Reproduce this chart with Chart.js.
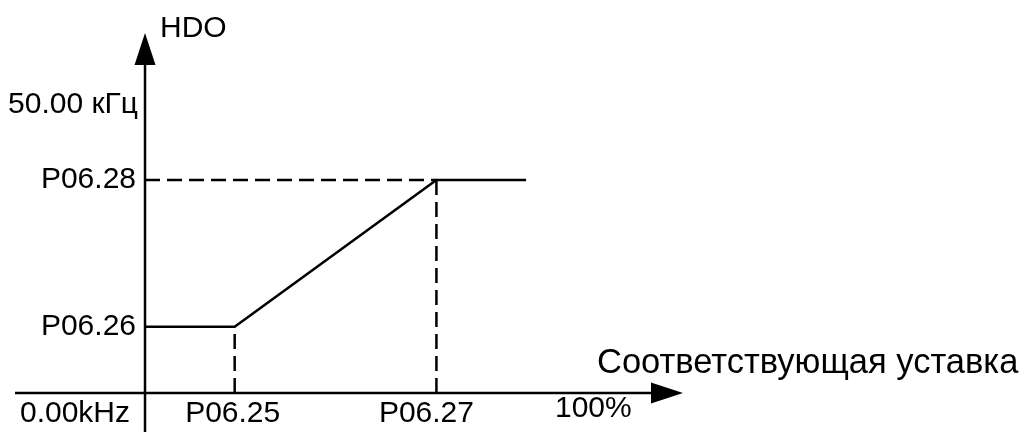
<!DOCTYPE html>
<html>
<head>
<meta charset="utf-8">
<script src="https://cdn.jsdelivr.net/npm/chart.js@4/dist/chart.umd.min.js"></script>
<style>
  html, body { margin: 0; padding: 0; background: #fff; }
  #wrap { width: 1024px; height: 432px; }
</style>
</head>
<body>
<div id="wrap"><canvas id="chart"></canvas></div>
<script>
// characteristic curve (x in % of setting, y in % of 50 kHz)
const curveX = [0, 20, 65, 85];
const curveY = [23, 23, 74, 74];

// breakpoints for the dashed guides
const breakX = [20, 65];
const breakY = [23, 74];

// text labels
const xTickLabels = ["P06.25", "P06.27"];
const yTickLabels = ["P06.26", "P06.28"];
const xMaxLabel = "100%";
const xMaxValue = 100;
const yMaxLabel = "50.00 кГц";
const yMaxValue = 100;
const originLabel = "0.00kHz";
const xTitle = "Соответствующая уставка";
const yTitle = "HDO";

const FONT = "'Liberation Sans', Arial, sans-serif";

const toPts = (xs, ys) => xs.map((x, i) => ({ x: x, y: ys[i] }));

const dashed = {
  borderColor: "#000",
  borderWidth: 2.5,
  borderDash: [15, 7],
  pointRadius: 0,
  fill: false,
};

const datasets = [
  {
    data: toPts(curveX, curveY),
    borderColor: "#000",
    borderWidth: 2.5,
    pointRadius: 0,
    fill: false,
  },
  // horizontal guide to the upper level
  Object.assign({ data: [{ x: 0, y: breakY[1] }, { x: breakX[1], y: breakY[1] }] }, dashed),
  // vertical guides down to the x axis
  Object.assign({ data: [{ x: breakX[0], y: 0 }, { x: breakX[0], y: breakY[0] }] }, dashed),
  Object.assign({ data: [{ x: breakX[1], y: 0 }, { x: breakX[1], y: breakY[1] }] }, dashed),
];

// axes with arrows and all text labels
const axesPlugin = {
  id: "arrowAxes",
  afterDraw(chart) {
    const ctx = chart.ctx;
    const xs = chart.scales.x;
    const ys = chart.scales.y;
    const x0 = xs.getPixelForValue(0);
    const y0 = ys.getPixelForValue(0);
    const xEnd = xs.getPixelForValue(xs.max);
    const yTop = ys.getPixelForValue(ys.max);
    const xStart = xs.getPixelForValue(xs.min);
    const yBottom = ys.getPixelForValue(ys.min);

    ctx.save();
    ctx.strokeStyle = "#000";
    ctx.fillStyle = "#000";
    ctx.lineWidth = 2.5;

    // x axis
    ctx.beginPath();
    ctx.moveTo(xStart, y0);
    ctx.lineTo(xEnd - 30, y0);
    ctx.stroke();
    ctx.beginPath();
    ctx.moveTo(xEnd, y0);
    ctx.lineTo(xEnd - 32, y0 - 10.5);
    ctx.lineTo(xEnd - 32, y0 + 10.5);
    ctx.closePath();
    ctx.fill();

    // y axis
    ctx.beginPath();
    ctx.moveTo(x0, yBottom);
    ctx.lineTo(x0, yTop + 30);
    ctx.stroke();
    ctx.beginPath();
    ctx.moveTo(x0, yTop);
    ctx.lineTo(x0 - 10.5, yTop + 32);
    ctx.lineTo(x0 + 10.5, yTop + 32);
    ctx.closePath();
    ctx.fill();

    ctx.font = "30px " + FONT;
    ctx.textBaseline = "middle";

    // y labels
    ctx.textAlign = "right";
    yTickLabels.forEach((t, i) => ctx.fillText(t, x0 - 9, ys.getPixelForValue(breakY[i])));
    ctx.fillText(yMaxLabel, x0 - 7, ys.getPixelForValue(yMaxValue));
    ctx.fillText(originLabel, x0 - 15, y0 + 21);

    // x labels
    ctx.textAlign = "center";
    xTickLabels.forEach((t, i) => ctx.fillText(t, xs.getPixelForValue(breakX[i]) - (i ? 10 : 2), y0 + 21));
    ctx.fillText(xMaxLabel, xs.getPixelForValue(xMaxValue), y0 + 16);

    // titles
    ctx.textAlign = "left";
    ctx.fillText(yTitle, x0 + 15, yTop - 4);
    ctx.font = "34.5px " + FONT;
    ctx.fillText(xTitle, 597, y0 - 30);
    ctx.restore();
  },
};

new Chart(document.getElementById("chart"), {
  type: "line",
  data: { datasets: datasets },
  options: {
    responsive: true,
    maintainAspectRatio: false,
    animation: false,
    layout: { padding: { left: 15, right: 341, top: 33, bottom: 0 } },
    plugins: { legend: { display: false }, tooltip: { enabled: false } },
    scales: {
      x: { type: "linear", display: false, min: -29, max: 120 },
      y: { type: "linear", display: false, min: -13.5, max: 125 },
    },
  },
  plugins: [axesPlugin],
});
</script>
</body>
</html>
